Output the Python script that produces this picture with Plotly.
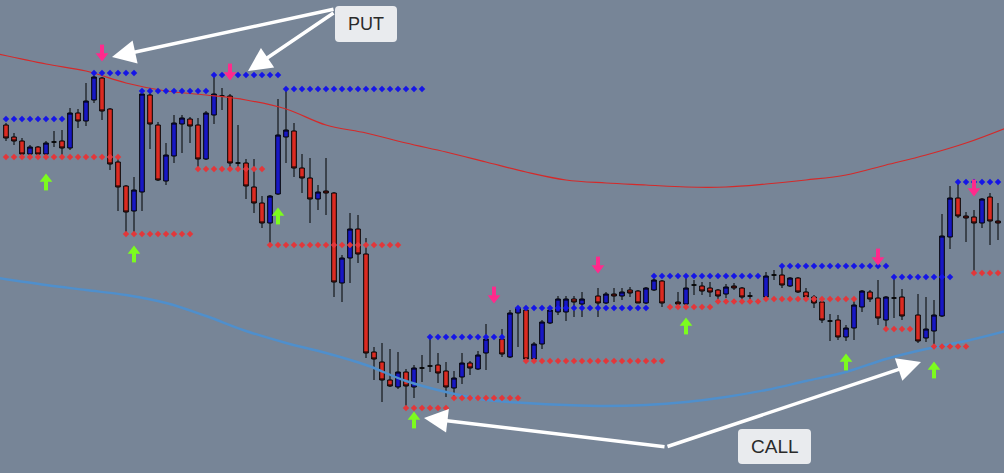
import plotly.graph_objects as go

# ---------------- data (price units) ----------------
bar_index = list(range(125))

open_ = [348,336,332,319,326,319,331,332,325,360,
         352,373,395,364,311,287,262,281,378,348,
         292,317,349,354,348,314,358,377,377,310,
         310,286,270,250,279,336,342,305,295,274,
         282,280,190,215,244,219,121,111,93,86,
         101,86,105,107,108,102,85,96,110,104,
         120,None,134,116,160,163,114,129,150,161,
         161,174,169,None,177,170,179,177,183,182,
         170,183,192,None,171,169,188,187,185,183,
         179,187,185,177,None,176,198,198,187,195,
         181,176,171,152,153,136,145,166,181,175,
         153,175,176,None,158,135,142,157,236,275,
         257,256,250,276,252]

high = [350,340,335,328,327,332,342,343,365,364,
        390,398,396,365,316,288,296,383,380,351,
        330,358,358,356,355,362,398,385,379,348,
        314,314,277,278,374,384,350,319,315,288,
        315,281,218,260,258,235,126,130,124,121,
        104,108,118,136,120,111,102,120,112,122,
        149,None,144,163,167,165,131,153,166,177,
        177,177,181,None,185,181,185,185,186,183,
        186,198,193,None,181,196,193,191,191,184,
        189,190,186,181,None,201,203,206,196,196,
        185,178,173,159,158,148,173,183,183,193,
        177,194,184,None,179,176,173,259,287,291,
        261,263,275,280,270]

low = [332,328,315,315,316,316,326,316,323,345,
       347,370,353,303,262,238,240,262,324,292,
       288,310,320,330,303,313,349,363,304,306,
       274,260,245,228,278,310,296,280,250,263,
       258,176,171,190,210,115,93,71,86,84,
       63,75,91,101,90,76,74,89,98,103,
       103,None,116,115,126,110,113,124,149,158,
       152,156,156,None,156,169,171,173,176,170,
       169,182,166,None,168,168,178,178,176,171,
       175,183,173,173,None,173,193,185,186,180,
       173,165,150,132,133,132,133,161,171,148,
       143,155,153,None,130,131,126,156,224,255,
       231,200,245,228,233]

close = [335,332,319,326,319,330,331,325,360,352,
         372,396,362,309,286,261,283,379,349,293,
         318,350,355,347,314,360,379,377,310,310,
         287,270,250,277,338,343,305,295,274,281,
         280,191,215,244,219,120,114,93,87,101,
         87,105,105,107,100,86,95,110,105,118,
         134,None,119,160,165,114,129,151,163,174,
         174,171,174,None,170,179,177,181,180,170,
         185,193,170,None,169,185,188,182,181,177,
         186,185,176,177,None,197,198,188,195,181,
         176,170,153,152,136,145,168,182,174,155,
         176,175,157,None,132,144,158,237,275,257,
         255,250,274,252,250]

# resistance (blue dotted) and support (red dotted) levels
res_start = [0, 11, 17, 26, 35, 53, 64, 81, 97, 111, 119]
res_end   = [7, 16, 25, 34, 52, 62, 80, 94, 110, 118, 124]
res_level = [354, 400, 382, 398, 384, 136, 165, 197, 207, 196, 291]

sup_start = [0, 15, 24, 33, 50, 56, 65, 83, 89, 95, 110, 116, 121]
sup_end   = [14, 23, 32, 49, 55, 64, 82, 88, 94, 106, 113, 120, 124]
sup_level = [316, 239, 304, 228, 65, 75, 112, 166, 171.5, 174, 144, 126.5, 200]

# signal arrows
call_idx   = [5, 16, 34, 51, 85, 105, 116]
call_price = [291, 219, 257, 53, 147, 111, 103]
put_idx    = [12, 28, 61, 74, 109, 121]
put_price  = [420, 401, 178, 208, 216, 285]

# envelope bands
env_idx   = [-1, 5, 10, 15, 20, 25, 30, 35, 40, 45, 50, 55, 60, 65, 70, 75,
             80, 85, 90, 95, 100, 105, 110, 115, 120, 125]
upper_env = [419, 409, 402, 390, 382, 378, 373, 364, 348, 340, 330, 321, 311,
             301, 293, 290, 288, 286, 286, 289, 293, 298, 308, 318, 330, 345]
lower_env = [195, 188, 183, 178, 170, 157, 142, 130, 120, 108, 92, 81, 73,
             70, 68, 67, 68, 71, 76, 83, 92, 101, 114, 124, 132, 142]

# ---------------- figure ----------------
W, H = 1004, 473
X_RANGE = [-0.75, 124.75]
Y_RANGE = [0, 473]
BG = "#778597"
GREEN = "#7CFC1E"
PINK = "#FF2A8C"

def to_data(xp, yp):
    """pixel position on the canvas -> data coordinates (for annotations)"""
    x = X_RANGE[0] + xp / W * (X_RANGE[1] - X_RANGE[0])
    y = Y_RANGE[1] - yp / H * (Y_RANGE[1] - Y_RANGE[0])
    return x, y

fig = go.Figure()

# envelopes
fig.add_trace(go.Scatter(x=env_idx, y=upper_env, mode="lines",
                         line=dict(color="#D42A2A", width=1.2, shape="spline"),
                         hoverinfo="skip"))
fig.add_trace(go.Scatter(x=env_idx, y=lower_env, mode="lines",
                         line=dict(color="#4F8FCC", width=2.4, shape="spline"),
                         hoverinfo="skip"))

# dotted levels
def level_points(starts, ends, levels):
    xs, ys = [], []
    for s, e, v in zip(starts, ends, levels):
        for k in range(s, e + 1):
            xs.append(k)
            ys.append(v)
    return xs, ys

rx, ry = level_points(res_start, res_end, res_level)
sx, sy = level_points(sup_start, sup_end, sup_level)
fig.add_trace(go.Scatter(x=rx, y=ry, mode="markers",
                         marker=dict(symbol="diamond", size=5, color="#1515E6"),
                         hoverinfo="skip"))
fig.add_trace(go.Scatter(x=sx, y=sy, mode="markers",
                         marker=dict(symbol="diamond", size=5, color="#E2373A"),
                         hoverinfo="skip"))

# arrows: head (triangle) + stem (thick short line)
HEAD_OFF = 3.0
STEM_OFF = 3.5
fig.add_trace(go.Scatter(x=call_idx, y=[p + HEAD_OFF for p in call_price], mode="markers",
                         marker=dict(symbol="triangle-up", size=11, color=GREEN),
                         hoverinfo="skip"))
fig.add_trace(go.Scatter(x=call_idx, y=[p - STEM_OFF for p in call_price], mode="markers",
                         marker=dict(symbol="line-ns", size=7, line=dict(color=GREEN, width=4)),
                         hoverinfo="skip"))
fig.add_trace(go.Scatter(x=put_idx, y=[p - HEAD_OFF for p in put_price], mode="markers",
                         marker=dict(symbol="triangle-down", size=11, color=PINK),
                         hoverinfo="skip"))
fig.add_trace(go.Scatter(x=put_idx, y=[p + STEM_OFF for p in put_price], mode="markers",
                         marker=dict(symbol="line-ns", size=7, line=dict(color=PINK, width=4)),
                         hoverinfo="skip"))

# candles
valid = [i for i in range(len(bar_index)) if open_[i] is not None]
fig.add_trace(go.Candlestick(
    x=[bar_index[i] for i in valid],
    open=[open_[i] for i in valid],
    high=[high[i] for i in valid],
    low=[low[i] for i in valid],
    close=[close[i] for i in valid],
    increasing=dict(fillcolor="#1717C4", line=dict(color="#000000", width=1)),
    decreasing=dict(fillcolor="#DC2B22", line=dict(color="#000000", width=1)),
    whiskerwidth=0, hoverinfo="skip"))

# label boxes (rounded) + text
def rounded_box(x0, y0, x1, y1, r=4):
    def P(xp, yp):
        x, y = to_data(xp, yp)
        return f"{x},{y}"
    path = (f"M {P(x0 + r, y0)} L {P(x1 - r, y0)} Q {P(x1, y0)} {P(x1, y0 + r)} "
            f"L {P(x1, y1 - r)} Q {P(x1, y1)} {P(x1 - r, y1)} "
            f"L {P(x0 + r, y1)} Q {P(x0, y1)} {P(x0, y1 - r)} "
            f"L {P(x0, y0 + r)} Q {P(x0, y0)} {P(x0 + r, y0)} Z")
    return dict(type="path", path=path, xref="x", yref="y",
                fillcolor="#E9EBEE", line=dict(width=0), layer="above")

shapes = [rounded_box(335, 6, 397, 42), rounded_box(738, 429, 811, 464)]

annotations = []
for (tx, ty), (hx, hy) in [((335, 9), (112, 57)), ((335, 12), (248, 71)),
                           ((666, 447), (424, 418)), ((666, 447), (921, 362))]:
    ax_, ay_ = to_data(tx, ty)
    hx_, hy_ = to_data(hx, hy)
    annotations.append(dict(x=hx_, y=hy_, ax=ax_, ay=ay_, xref="x", yref="y",
                            axref="x", ayref="y", text="", showarrow=True,
                            arrowhead=2, arrowsize=1.35, arrowwidth=3.5,
                            arrowcolor="#FFFFFF", standoff=0, startstandoff=0))

for label, (cx, cy), fs in [("PUT", (366, 24), 18), ("CALL", (774.5, 446.5), 19)]:
    x_, y_ = to_data(cx, cy)
    annotations.append(dict(x=x_, y=y_, xref="x", yref="y", text=label, showarrow=False,
                            font=dict(family="Liberation Sans, Arial", size=fs, color="#2A2A2A"),
                            xanchor="center", yanchor="middle"))

fig.update_layout(
    width=W, height=H,
    margin=dict(l=0, r=0, t=0, b=0),
    paper_bgcolor=BG, plot_bgcolor=BG,
    showlegend=False,
    boxgap=0.18,
    shapes=shapes,
    annotations=annotations,
    xaxis=dict(range=X_RANGE, visible=False, rangeslider=dict(visible=False), fixedrange=True),
    yaxis=dict(range=Y_RANGE, visible=False, fixedrange=True),
)

fig.write_html("out.html", config={"displayModeBar": False},
               post_script="document.body.style.margin='0';document.body.style.overflow='hidden';")
